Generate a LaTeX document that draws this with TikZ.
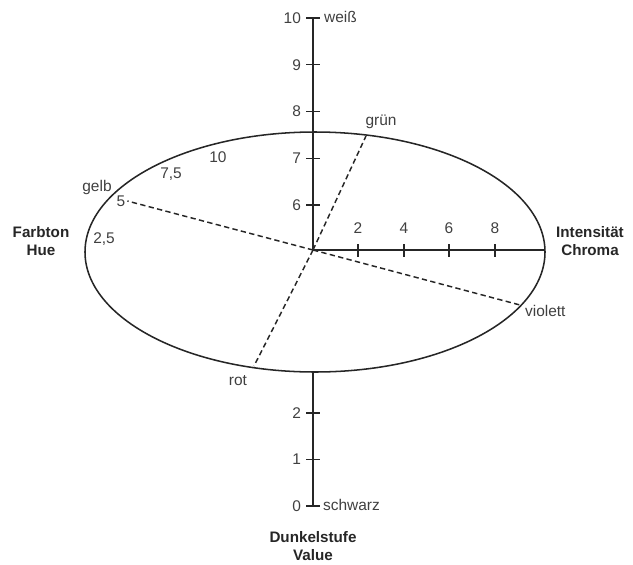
\documentclass[tikz,border=0pt]{standalone}
\usepackage{fontspec}
\setmainfont{Liberation Sans}
\begin{document}
\begin{tikzpicture}[x=0.75pt,y=-0.75pt,
  line width=1.15pt, color={black!85},
  lbl/.style={font=\fontsize{11.6}{12}\selectfont, text=black!75, inner sep=1pt},
  ttl/.style={font=\fontsize{11.4}{13.5}\selectfont\bfseries, text=black!85, align=center, inner sep=1pt},
  tickv/.style={line width=1pt},
  dashline/.style={dashed, dash pattern=on 4pt off 2.5pt, line width=1.1pt}]
\useasboundingbox (0,0) rectangle (633,565);
% points
\coordinate (c) at (313,250);
\coordinate (top) at (313,18);
\coordinate (ebot) at (313,372);
\coordinate (bot) at (313,506);
\coordinate (eright) at (545,250);
\coordinate (pgruen) at (366,136);
\coordinate (pviolett) at (520,305);
\coordinate (prot) at (254,366);
% ellipse
\draw (315,252) ellipse [x radius=172.5pt, y radius=90pt];
% axes
\draw (c) -- (top);
\draw (ebot) -- (bot);
\draw (c) -- (eright);
% vertical ticks upper
\foreach \v/\y in {10/18,9/64.75,8/111.5,7/158.25,6/205}{
  \draw[tickv] (306,\y) -- (320,\y);
  \node[lbl, anchor=east] (v\v) at (303,\y) {\v};
}
\foreach \v/\y in {2/413,1/459.5,0/506}{
  \draw[tickv] (306,\y) -- (320,\y);
  \node[lbl, anchor=east] (v\v) at (303,\y) {\v};
}
% horizontal ticks
\foreach \v/\x in {2/358,4/404,6/449,8/495}{
  \draw[tickv] (\x,244) -- (\x,257);
  \node[lbl] (h\v) at (\x,228) {\v};
}
% labels
\node[lbl, anchor=west] (weiss) at (322,17) {weiß};
\node[lbl, anchor=west] (schwarz) at (321,505) {schwarz};
\node[lbl] (gruen) at (381,122) {grün};
\node[lbl] (gelb) at (97,187) {gelb};
\node[lbl] (h5) at (121,201) {5};
\node[lbl] (h75) at (171,174) {7,5};
\node[lbl] (h10) at (218,157) {10};
\node[lbl] (h25) at (104,239) {2,5};
\node[lbl, anchor=west] (violett) at (523,311) {violett};
\node[lbl] (rot) at (238,381) {rot};
\node[ttl] (hue) at (41,241) {Farbton\\Hue};
\node[ttl] (chroma) at (590,241) {Intensität\\Chroma};
\node[ttl] (value) at (313,546) {Dunkelstufe\\Value};
% dashed lines
\draw[dashline] (c) -- (pgruen);
\draw[dashline] (c) -- (pviolett);
\draw[dashline] (c) -- (prot);
\draw[dashline] (c) -- (h5.east);
\end{tikzpicture}
\end{document}
